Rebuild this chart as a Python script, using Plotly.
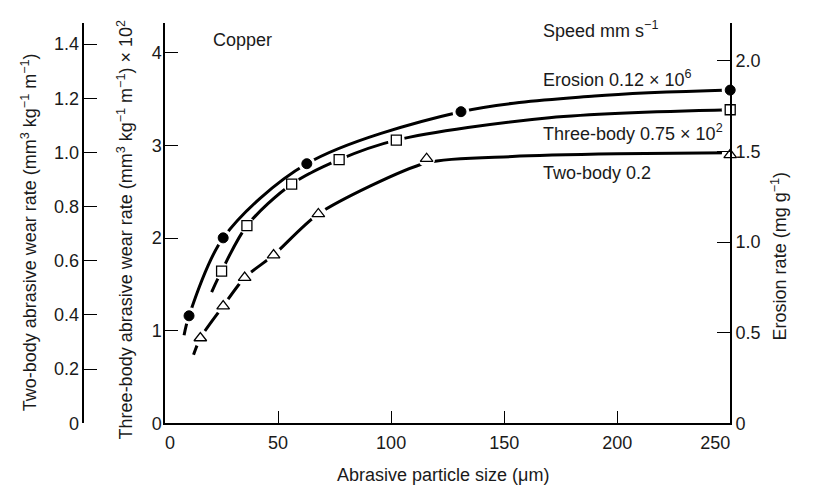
import plotly.graph_objects as go

# ---- data ----
# Erosion (right axis, mg g^-1), filled circles
erosion_x = [10.6, 25.7, 62.7, 130.9, 250]
erosion_y = [0.593, 1.023, 1.432, 1.719, 1.838]
erosion_curve_x = [8.4, 10.6, 25.7, 62.7, 130.9, 190, 250]
erosion_curve_y = [0.486, 0.593, 1.023, 1.432, 1.719, 1.805, 1.838]

# Three-body (inner left axis, x10^2), open squares
three_x = [25.0, 36.2, 56.0, 77.0, 102.3, 250]
three_y = [1.643, 2.134, 2.582, 2.847, 3.058, 3.386]
three_curve_x = [20.6, 25.0, 36.2, 56.0, 77.0, 102.3, 170, 250]
three_curve_y = [1.418, 1.643, 2.134, 2.582, 2.847, 3.058, 3.30, 3.386]

# Two-body (outer left axis), open triangles
two_x = [15.6, 25.7, 35.2, 48.0, 67.8, 115.7, 250]
two_y = [0.315, 0.433, 0.538, 0.621, 0.773, 0.977, 0.991]
two_curve_x = [12.6, 15.6, 25.7, 35.2, 48.0, 67.8, 115.7, 153.6, 200, 250]
two_curve_y = [0.253, 0.315, 0.433, 0.538, 0.621, 0.773, 0.962, 0.985, 0.995, 0.999]

x_ticks = [0, 50, 100, 150, 200, 250]
x_ticktext = ["\u00a0\u00a00", "50", "100", "150", "200", "250\u00a0\u00a0\u00a0\u00a0\u00a0\u00a0"]
three_ticks = [0, 1, 2, 3, 4]
erosion_ticks = [0, 0.5, 1.0, 1.5, 2.0]
erosion_ticktext = ["0", "0.5", "1.0", "1.5", "2.0"]
two_ticks = [0, 0.2, 0.4, 0.6, 0.8, 1.0, 1.2, 1.4]
two_ticktext = ["0", "0.2", "0.4", "0.6", "0.8", "1.0", "1.2", "1.4"]

W, H = 823, 497
FONT = "Liberation Sans, Arial, sans-serif"
TXT = "#1a1a1a"

fig = go.Figure()

# curves
for cx, cy, ax, sm in [(erosion_curve_x, erosion_curve_y, "y2", 0.9),
                       (three_curve_x, three_curve_y, "y", 0.9),
                       (two_curve_x, two_curve_y, "y3", 0.7)]:
    fig.add_trace(go.Scatter(x=cx, y=cy, yaxis=ax, mode="lines",
                             line=dict(color="black", width=3, shape="spline", smoothing=sm),
                             showlegend=False, hoverinfo="skip"))

# white gaps around markers
for px, py, ax in [(erosion_x, erosion_y, "y2"), (three_x, three_y, "y"), (two_x, two_y, "y3")]:
    fig.add_trace(go.Scatter(x=px, y=py, yaxis=ax, mode="markers",
                             marker=dict(color="white", size=17, line=dict(width=0)),
                             showlegend=False, hoverinfo="skip", cliponaxis=False))

# markers
fig.add_trace(go.Scatter(x=erosion_x, y=erosion_y, yaxis="y2", mode="markers",
                         marker=dict(symbol="circle", color="black", size=10,
                                     line=dict(color="black", width=1)),
                         showlegend=False, cliponaxis=False))
fig.add_trace(go.Scatter(x=three_x, y=three_y, yaxis="y", mode="markers",
                         marker=dict(symbol="square-open", color="black", size=10,
                                     line=dict(color="black", width=1.3)),
                         showlegend=False, cliponaxis=False))
fig.add_trace(go.Scatter(x=two_x, y=two_y, yaxis="y3", mode="markers",
                         marker=dict(symbol="triangle-up-open", color="black", size=11,
                                     line=dict(color="black", width=1.3)),
                         showlegend=False, cliponaxis=False))

x0, x1 = 163 / W, 757 / W
ybot, ytop = 432, 23
yd = [1 - ybot / H, 1 - ytop / H]
span = ybot - ytop

def axis_common(standoff=0):
    return dict(showgrid=False, zeroline=False, showline=True, linecolor="black",
                linewidth=1.5, ticks="inside", ticklen=13, tickwidth=1.3,
                tickcolor="black", ticklabelstandoff=standoff,
                tickfont=dict(family=FONT, size=18, color=TXT))

fig.update_layout(
    width=W, height=H, margin=dict(l=0, r=0, t=0, b=0),
    paper_bgcolor="white", plot_bgcolor="white",
    font=dict(family=FONT, color=TXT),
    xaxis=dict(domain=[x0, x1], range=[0, 250], tickvals=x_ticks, ticktext=x_ticktext,
               **axis_common(2)),
    yaxis=dict(domain=yd, range=[0, span / 94.5], tickvals=three_ticks, anchor="x",
               **axis_common(-2)),
    yaxis2=dict(range=[0, span / 185.0], tickvals=erosion_ticks, ticktext=erosion_ticktext,
                overlaying="y", side="right", anchor="x", **axis_common(0)),
    yaxis3=dict(range=[0, span / 276.4], tickvals=two_ticks, ticktext=two_ticktext,
                overlaying="y", side="left", anchor="free", position=77 / W,
                **axis_common(0)),
)

def ann(text, px, py, size=18, xanchor="left", angle=0):
    fig.add_annotation(text=text, x=px / W, y=1 - py / H, xref="paper", yref="paper",
                       xanchor=xanchor, yanchor="middle", showarrow=False, textangle=angle,
                       font=dict(family=FONT, size=size, color=TXT))

ann("Copper", 211, 41)
ann("Speed mm s<sup>−1</sup>", 558, 30)
ann("Erosion 0.12 × 10<sup>6</sup>", 558, 80)
ann("Three-body 0.75 × 10<sup>2</sup>", 558, 135)
ann("Two-body 0.2", 558, 177)
ann("Abrasive particle size (μm)", 455, 485, xanchor="center")
ann("Two-body abrasive wear rate (mm<sup>3</sup> kg<sup>−1</sup> m<sup>−1</sup>)", 20, 237,
    xanchor="center", angle=-90)
ann("Three-body abrasive wear rate (mm<sup>3</sup> kg<sup>−1</sup> m<sup>−1</sup>) × 10<sup>2</sup>",
    121, 235, xanchor="center", angle=-90)
ann("Erosion rate (mg g<sup>−1</sup>)", 809, 262, xanchor="center", angle=-90)

fig.write_html("out.html")
